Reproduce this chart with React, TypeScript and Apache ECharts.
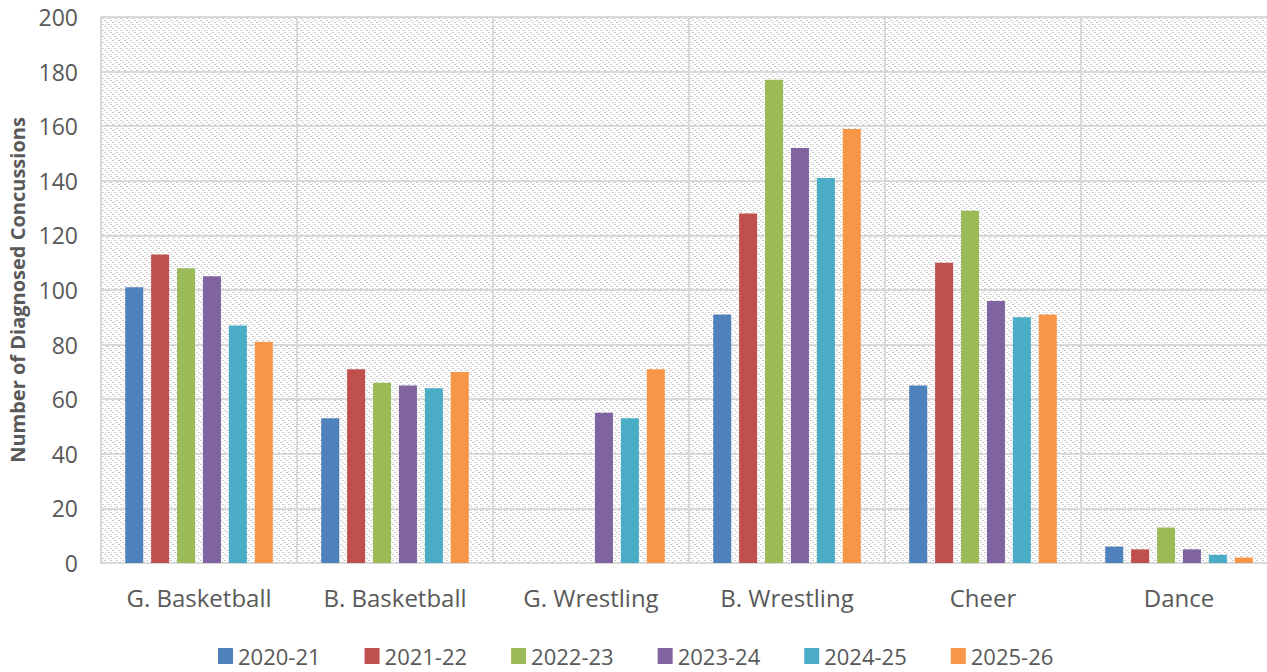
import React, { useEffect, useRef } from "react";
import * as echarts from "echarts";

const categories = ["G. Basketball", "B. Basketball", "G. Wrestling", "B. Wrestling", "Cheer", "Dance"];
const seriesNames = ["2020-21", "2021-22", "2022-23", "2023-24", "2024-25", "2025-26"];
const s2020 = [101, 53, 0, 91, 65, 6];
const s2021 = [113, 71, 0, 128, 110, 5];
const s2022 = [108, 66, 0, 177, 129, 13];
const s2023 = [105, 65, 55, 152, 96, 5];
const s2024 = [87, 64, 53, 141, 90, 3];
const s2025 = [81, 70, 71, 159, 91, 2];
const seriesData = [s2020, s2021, s2022, s2023, s2024, s2025];
const colors = ["#4F81BD", "#C0504D", "#9BBB59", "#8064A2", "#4BACC6", "#F79646"];

const tile =
  '<svg xmlns="http://www.w3.org/2000/svg" width="6" height="6" shape-rendering="crispEdges">' +
  '<rect width="6" height="6" fill="#ffffff"/>' +
  '<rect x="0" y="0" width="2" height="1" fill="#cccccc"/>' +
  '<rect x="2" y="2" width="2" height="1" fill="#cccccc"/>' +
  '<rect x="4" y="4" width="2" height="1" fill="#cccccc"/>' +
  '<rect x="3" y="0" width="1" height="1" fill="#dddddd"/>' +
  '<rect x="0" y="3" width="1" height="1" fill="#dddddd"/>' +
  "</svg>";
const tileUrl = "data:image/svg+xml;charset=utf-8," + encodeURIComponent(tile);

export default function App() {
  const ref = useRef<HTMLDivElement>(null);
  useEffect(() => {
    if (!ref.current) return;
    const chart = echarts.init(ref.current, undefined, { renderer: "svg" });
    chart.setOption({
      animation: false,
      backgroundColor: "#ffffff",
      grid: {
        left: 101,
        top: 17,
        width: 1176,
        height: 546,
        show: true,
        borderWidth: 0,
        outerBoundsMode: "none",
        containLabel: false,
        backgroundColor: { image: tileUrl, repeat: "repeat" } as any,
      } as any,
      legend: {
        data: seriesNames,
        top: 644,
        left: 218,
        padding: 0,
        itemWidth: 15,
        itemHeight: 16,
        itemGap: 44,
        icon: "rect",
        textStyle: {
          fontFamily: "'Open Sans', sans-serif",
          fontSize: 22,
          lineHeight: 24,
          color: "#595959",
        },
      },
      xAxis: {
        type: "category",
        data: categories,
        axisTick: { show: false },
        axisLine: { lineStyle: { color: "#d9d9d9", width: 2 } },
        splitLine: { show: true, lineStyle: { color: "#d9d9d9", width: 2 } },
        axisLabel: {
          fontFamily: "'Open Sans', sans-serif",
          fontSize: 24,
          color: "#595959",
          margin: 22,
        },
      },
      yAxis: {
        type: "value",
        min: 0,
        max: 200,
        interval: 20,
        name: "Number of Diagnosed Concussions",
        nameLocation: "middle",
        nameGap: 74,
        nameTextStyle: {
          fontFamily: "'Open Sans', sans-serif",
          fontSize: 20,
          fontWeight: "bold",
          color: "#595959",
        },
        axisLine: { show: true, lineStyle: { color: "#d9d9d9", width: 2 } },
        axisTick: { show: false },
        splitLine: { show: true, lineStyle: { color: "#d9d9d9", width: 2 } },
        axisLabel: {
          fontFamily: "'Open Sans', sans-serif",
          fontSize: 23,
          color: "#595959",
          margin: 23,
        },
      },
      series: seriesNames.map((name, i) => ({
        name,
        type: "bar",
        data: seriesData[i],
        barWidth: 18,
        barGap: "44%",
        itemStyle: { color: colors[i] },
      })),
    });
    return () => chart.dispose();
  }, []);
  return (
    <div
      ref={ref}
      style={{ position: "fixed", left: 0, top: 0, width: 1267, height: 672, background: "#fff" }}
    />
  );
}
